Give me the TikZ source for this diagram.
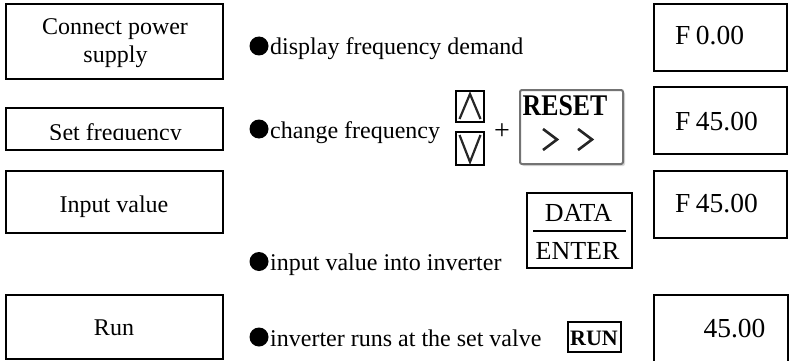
\documentclass[tikz,border=0pt]{standalone}
\usepackage{fontspec}
\setmainfont{Liberation Serif}
\begin{document}
\begin{tikzpicture}[x=1pt,y=-1pt,
  box/.style={draw, line width=1.6pt, inner sep=0pt},
  txt/.style={inner sep=0pt, font=\fontsize{24}{28}\selectfont},
  big/.style={inner sep=0pt, font=\fontsize{27.5}{30}\selectfont},
  keyglyph/.style={line width=2.2pt, line join=miter},
  dot/.style={circle, fill=black, inner sep=0pt, minimum size=19pt}]
\useasboundingbox (0,0) rectangle (789,361);

% step boxes on the left
\node[box, minimum width=217pt, minimum height=75pt] (s1) at (114.5,41.5) {};
\node[box, minimum width=217pt, minimum height=42pt] (s2) at (114.5,129) {};
\node[box, minimum width=217pt, minimum height=62pt] (s3) at (114.5,202) {};
\node[box, minimum width=217pt, minimum height=64pt] (s4) at (114.5,327) {};

\node[txt, anchor=base] (s1a) at (115,35) {Connect power};
\node[txt, anchor=base] (s1b) at (115.5,63) {supply};
\begin{scope}
  \clip (8,110) rectangle (221,139.5);
  \node[txt, anchor=base] (s2a) at (115.5,140.5) {Set frequency};
\end{scope}
\node[txt, anchor=base] (s3a) at (114,212) {Input value};
\node[txt, anchor=base] (s4a) at (114,335) {Run};

% display boxes on the right
\node[box, minimum width=133pt, minimum height=67pt] (d1) at (720.5,37.5) {};
\node[box, minimum width=133pt, minimum height=67pt] (d2) at (720.5,120.5) {};
\node[box, minimum width=133pt, minimum height=67pt] (d3) at (720.5,204.5) {};
\node[box, minimum width=134pt, minimum height=67pt] (d4) at (721,328.5) {};

\node[big, anchor=base west] (d1a) at (675,45) {F\kern0.2em0.00};
\node[big, anchor=base west] (d2a) at (675,130) {F\kern0.2em45.00};
\node[big, anchor=base west] (d3a) at (675,212) {F\kern0.2em45.00};
\node[big, anchor=base] (d4a) at (734.5,337) {45.00};

% bulleted descriptions
\node[dot] (p1) at (259,46) {};
\node[dot] (p2) at (259,129) {};
\node[dot] (p3) at (259,261.5) {};
\node[dot] (p4) at (259,337) {};
\node[txt, anchor=base west] (p1t) at (270,55) {display frequency demand};
\node[txt, anchor=base west] (p2t) at (270,138) {change frequency};
\node[txt, anchor=base west] (p3t) at (270,270) {input value into inverter};
\node[txt, anchor=base west] (p4t) at (270,346) {inverter runs at the set valve};

% up / down keys
\node[draw, line width=1.6pt, minimum width=28pt, minimum height=31pt, inner sep=0pt] (up) at (470,106.5) {};
\node[draw, line width=1.6pt, minimum width=28pt, minimum height=33pt, inner sep=0pt] (down) at (470,148.5) {};
\draw[keyglyph, black!85] (459.5,119) -- (470,94) -- (480.5,119);
\draw[keyglyph, black!85] (459.5,135) -- (470,162) -- (480.5,135);
\node[inner sep=0pt, anchor=base, font=\fontsize{28}{30}\selectfont] (plus) at (502,139) {+};

% RESET key
\fill[black!15, rounded corners=2pt] (522,92) rectangle (625,166);
\node[draw=black!55, line width=2pt, rounded corners=2pt, fill=white, minimum width=103pt, minimum height=74pt, inner sep=0pt] (reset) at (571.5,127) {};
\node[inner sep=0pt, anchor=base, font=\fontsize{30}{32}\selectfont\bfseries, xscale=0.86] (resett) at (565,115) {RESET};
\draw[line width=2.6pt, black!85] (543,129) -- (557,139.5) -- (543,150);
\draw[line width=2.6pt, black!85] (578,129) -- (592,139.5) -- (578,150);

% DATA / ENTER key
\node[box, minimum width=105pt, minimum height=75pt] (data) at (579.5,230.5) {};
\draw[line width=1.4pt] (533,231) -- (626,231);
\node[inner sep=0pt, anchor=base, font=\fontsize{26}{30}\selectfont] (datat) at (578.5,221) {DATA};
\node[inner sep=0pt, anchor=base, font=\fontsize{26}{30}\selectfont] (entert) at (577.5,259) {ENTER};

% RUN key
\node[box, minimum width=53pt, minimum height=30pt] (run) at (594.5,337) {};
\node[inner sep=0pt, anchor=base, font=\fontsize{22}{26}\selectfont\bfseries] (runt) at (594,345) {RUN};
\end{tikzpicture}
\end{document}
